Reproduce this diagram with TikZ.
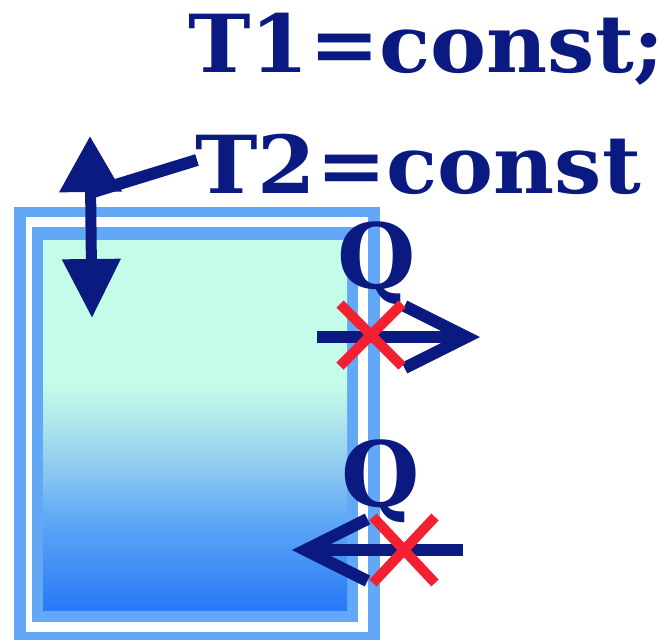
\documentclass[tikz,border=0pt]{standalone}
\usepackage{fontspec}
\setmainfont{DejaVu Serif}
\usetikzlibrary{arrows.meta}
\definecolor{ink}{HTML}{0A1A80}
\definecolor{wallblue}{HTML}{62A8F6}
\definecolor{crossred}{HTML}{F22030}
\definecolor{mint}{HTML}{C4FCEA}
\definecolor{seafoam}{HTML}{ACE4EC}
\definecolor{skyblue}{HTML}{8CC8F0}
\definecolor{midblue}{HTML}{5EA8F5}
\definecolor{deepblue}{HTML}{2878F8}
\pgfdeclareverticalshading{tankfill}{100bp}{%
  color(0bp)=(deepblue); color(25bp)=(deepblue); color(37.2bp)=(midblue);
  color(43.9bp)=(skyblue); color(50bp)=(seafoam); color(55.5bp)=(mint);
  color(75bp)=(mint); color(100bp)=(mint)}
\tikzset{
  bigtext/.style={text=ink, inner sep=0pt, font=\fontsize{80}{90}\selectfont\bfseries},
  heatq/.style={bigtext, font=\fontsize{90}{100}\selectfont\bfseries},
  flux/.style={draw=ink, line width=12pt, -{Straight Barb[length=62pt,width=62pt]}},
  bothway/.style={draw=ink, line width=11pt,
    {Triangle[length=59pt,width=56pt]}-{Triangle[length=56pt,width=60pt]}},
  leader/.style={draw=ink, line width=12pt},
  block/.style={draw=crossred, line width=10pt}
}
\begin{document}
\begin{tikzpicture}[x=1pt,y=-1pt]
  \useasboundingbox (0,0) rectangle (668,640);

  % vessel walls
  \fill[wallblue] (14,207) rectangle (380,640);
  \fill[white] (26,217) rectangle (368,632);
  \fill[wallblue] (32,227) rectangle (358,622);
  \shade[shading=tankfill] (43,240) rectangle (347,610);

  % labels
  \node[bigtext, anchor=base west] (tone) at (188,72)
    {\scalebox{1.05}[1]{T1=const;}};
  \node[bigtext, anchor=base west] (ttwo) at (195,193)
    {\scalebox{1.05}[1]{T2=const}};
  \node[heatq, anchor=base west] (qout) at (337,288) {Q};
  \node[heatq, anchor=base west] (qin) at (341,506) {Q};

  % movable piston arrow with leader to the text
  \coordinate (uptip) at (90,136);
  \coordinate (downtip) at (92,318);
  \coordinate (shaftjoin) at (93,192);
  \coordinate (leaderend) at (197,160);
  \draw[bothway] (downtip) -- (uptip);
  \draw[leader] (shaftjoin) -- (leaderend);

  % blocked heat flow, outward
  \coordinate (outstart) at (317,337);
  \coordinate (outtip) at (480,337);
  \draw[flux] (outstart) -- (outtip);
  \coordinate (xa) at (340,304);
  \coordinate (xb) at (402,366);
  \coordinate (xc) at (340,366);
  \coordinate (xd) at (402,304);
  \draw[block] (xa) -- (xb);
  \draw[block] (xc) -- (xd);

  % blocked heat flow, inward
  \coordinate (instart) at (463,550);
  \coordinate (intip) at (292,550);
  \draw[flux] (instart) -- (intip);
  \coordinate (ya) at (373,517);
  \coordinate (yb) at (435,583);
  \coordinate (yc) at (373,583);
  \coordinate (yd) at (435,517);
  \draw[block] (ya) -- (yb);
  \draw[block] (yc) -- (yd);
\end{tikzpicture}
\end{document}
